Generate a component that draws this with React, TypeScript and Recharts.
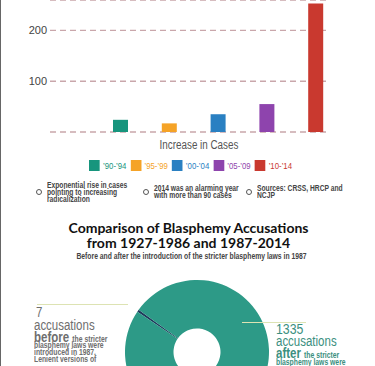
import React from 'react';
import { BarChart, Bar, Cell, XAxis, YAxis, CartesianGrid, PieChart, Pie } from 'recharts';

const periods = ['’90-’94', '’95-’99', '’00-’04', '’05-’09', '’10-’14'];
const caseCounts = [24, 17, 35, 55, 253];
const periodColors = ['#17957d', '#f5a327', '#2a80c2', '#8e44ad', '#c9392f'];
const yTicks = [0, 100, 200];

const accusationPeriods = ['1927-1986', '1987-2014'];
const accusationCounts = [7, 1335];
const accusationColors = ['#1f3a5c', '#2d9a87'];

const notes = [
  ['Exponential rise in cases', 'pointing to increasing', 'radicalization'],
  ['2014 was an alarming year', 'with more than 90 cases'],
  ['Sources: CRSS, HRCP and', 'NCJP'],
];
const noteLefts = [36, 143, 246];

const barData = periods.map((period, i) => ({ period, cases: caseCounts[i] }));
const pieData = accusationPeriods.map((period, i) => ({ period, count: accusationCounts[i] }));

const sans = '"Liberation Sans", Arial, sans-serif';
const gray = '#6e6e6e';
const teal = '#3b8f80';
// no condensed face installed, so squeeze Liberation Sans instead
const squeeze = 0.82;

const abs = (top: number, left: number, extra: React.CSSProperties = {}): React.CSSProperties => ({
  position: 'absolute',
  top,
  left,
  whiteSpace: 'nowrap',
  ...extra,
});

const Narrow: React.FC<{ top: number; left: number; size: number; lh: number; bold?: boolean; children: React.ReactNode }> = ({
  top,
  left,
  size,
  lh,
  bold,
  children,
}) => (
  <div
    style={abs(top, left, {
      transform: `scaleX(${squeeze})`,
      transformOrigin: 'left top',
      fontFamily: sans,
      fontSize: size,
      lineHeight: `${lh}px`,
      fontWeight: bold ? 700 : 400,
    })}
  >
    {children}
  </div>
);

const App: React.FC = () => {
  return (
    <div style={{ position: 'relative', width: 375, height: 366, overflow: 'hidden', background: '#fff', fontFamily: sans }}>
      <style>{'body{margin:0}'}</style>
      <div style={abs(0, 0, { width: 1, height: 366, background: '#666', zIndex: 3 })} />

      <div style={abs(0, 0)}>
        <BarChart width={375} height={134} data={barData} margin={{ top: 0, right: 47, bottom: 2, left: 0 }}>
          <CartesianGrid vertical={false} stroke="#c9a7ab" strokeDasharray="6 4" strokeWidth={1.3} />
          <XAxis dataKey="period" hide padding={{ left: 46, right: -12 }} />
          <YAxis
            width={50}
            domain={[0, 260]}
            ticks={yTicks}
            axisLine={false}
            tickLine={false}
            tickSize={0}
            tickMargin={3}
            tick={{ fill: '#444', fontSize: 11, fontFamily: sans }}
          />
          <Bar dataKey="cases" barSize={15} isAnimationActive={false}>
            {barData.map((d, i) => (
              <Cell key={d.period} fill={periodColors[i]} />
            ))}
          </Bar>
        </BarChart>
      </div>

      <div style={abs(138.8, 0, { width: 398, textAlign: 'center', fontSize: 12, lineHeight: 1, color: '#555', transform: `scaleX(${squeeze})`, transformOrigin: '199px 0' })}>
        Increase in Cases
      </div>

      <div style={abs(160, 89, { display: 'flex', alignItems: 'center', gap: 4.9, transform: `scaleX(${squeeze})`, transformOrigin: 'left top' })}>
        {periods.map((p, i) => (
          <div key={p} style={{ display: 'flex', alignItems: 'center', gap: 3.7 }}>
            <div style={{ width: 13.4, height: 11, background: periodColors[i] }} />
            <span style={{ fontSize: 9.5, lineHeight: '11px', color: periodColors[i] }}>{p}</span>
          </div>
        ))}
      </div>

      {notes.map((lines, i) => (
        <div key={i} style={abs(181, noteLefts[i], { height: 22, display: 'flex', alignItems: 'center', gap: 5 })}>
          <div style={{ width: 4, height: 4, borderRadius: '50%', border: '1.2px solid #555' }} />
          <div style={{ fontWeight: 700, fontSize: 8.2, lineHeight: '7px', color: '#444', transform: `scaleX(${squeeze})`, transformOrigin: 'left center' }}>
            {lines.map((l) => (
              <div key={l}>{l}</div>
            ))}
          </div>
        </div>
      ))}

      <div style={abs(219.8, 0, { width: 377, textAlign: 'center', fontFamily: 'Lato, sans-serif', fontWeight: 700, fontSize: 14, lineHeight: '15px', color: '#111' })}>
        Comparison of Blasphemy Accusations
        <br />
        from 1927-1986 and 1987-2014
      </div>
      <div style={abs(251.5, 0, { width: 383, textAlign: 'center', fontWeight: 700, fontSize: 8.3, lineHeight: 1, color: '#444', transform: `scaleX(${squeeze})`, transformOrigin: '191.5px 0' })}>
        Before and after the introduction of the stricter blasphemy laws in 1987
      </div>

      <div style={abs(200, 0)}>
        <PieChart width={375} height={230}>
          <Pie
            data={pieData}
            dataKey="count"
            nameKey="period"
            cx={192}
            cy={147}
            innerRadius={23.5}
            outerRadius={72}
            startAngle={146}
            endAngle={-214}
            stroke="none"
            isAnimationActive={false}
          >
            {pieData.map((d, i) => (
              <Cell key={d.period} fill={accusationColors[i]} />
            ))}
          </Pie>
        </PieChart>
      </div>

      <div style={abs(304, 37, { width: 91, height: 1, background: '#dde3b3', zIndex: 2 })} />
      <div style={abs(321.5, 242, { width: 64, height: 1, background: '#dde3b3', zIndex: 2 })} />

      <div style={{ color: gray }}>
        <Narrow top={306.45} left={36} size={14} lh={12}>7</Narrow>
        <Narrow top={319.15} left={34} size={14} lh={12}>accusations</Narrow>
        <Narrow top={331.65} left={34} size={14} lh={10} bold>
          before <span style={{ fontSize: 8.3 }}>the stricter</span>
        </Narrow>
        <Narrow top={341.7} left={34} size={8.3} lh={7} bold>blasphemy laws were</Narrow>
        <Narrow top={348.7} left={34} size={8.3} lh={7} bold>introduced in 1987.</Narrow>
        <Narrow top={356.1} left={34} size={8.3} lh={7} bold>Lenient versions of</Narrow>
      </div>

      <div style={{ color: teal }}>
        <Narrow top={322.8} left={276} size={15} lh={12}>1335</Narrow>
        <Narrow top={335.15} left={276} size={14} lh={12}>accusations</Narrow>
        <Narrow top={348.15} left={276} size={14} lh={10} bold>
          after <span style={{ fontSize: 8.3 }}>the stricter</span>
        </Narrow>
        <Narrow top={359.1} left={276} size={8.3} lh={7} bold>blasphemy laws were</Narrow>
      </div>
    </div>
  );
};

export default App;
